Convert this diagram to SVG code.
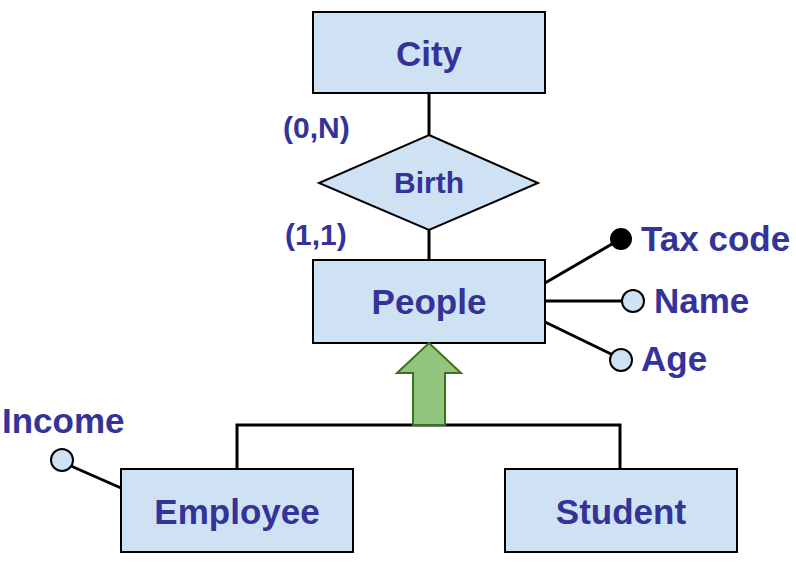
<svg xmlns="http://www.w3.org/2000/svg" width="796" height="577" viewBox="0 0 796 577">
<style>
.ent{fill:#cfe2f3;stroke:#000;stroke-width:2}
.t{font-family:"Liberation Sans",Arial,sans-serif;font-weight:bold;fill:#333399}
.big{font-size:35px}
.mid{font-size:30px}
.ln{stroke:#000;stroke-width:3;fill:none}
.attr{fill:#cfe2f3;stroke:#000;stroke-width:2}
</style>
<rect width="796" height="577" fill="#fff"/>
<g id="connectors">
<line class="ln" x1="429" y1="93" x2="429" y2="135"/>
<line class="ln" x1="429" y1="230" x2="429" y2="260"/>
<line class="ln" x1="545" y1="283" x2="612" y2="244"/>
<line class="ln" x1="545" y1="301" x2="622" y2="301"/>
<line class="ln" x1="545" y1="322" x2="611" y2="354"/>
<line class="ln" x1="71" y1="466" x2="121" y2="488"/>
<polyline class="ln" points="237,469 237,425 620,425 620,469"/>
</g>
<g id="city"><rect class="ent" x="313" y="12" width="232" height="81"/><text class="t big" x="429" y="66" text-anchor="middle">City</text></g>
<g id="birth"><polygon class="ent" points="429,135 538,183 429,230 319,183"/><text class="t mid" x="429" y="193" text-anchor="middle">Birth</text></g>
<g id="card-city"><text class="t mid" x="283" y="138">(0,N)</text></g>
<g id="card-people"><text class="t mid" x="285" y="245">(1,1)</text></g>
<g id="people"><rect class="ent" x="313" y="260" width="232" height="83"/><text class="t big" x="429" y="314" text-anchor="middle">People</text></g>
<g id="taxcode"><circle cx="621" cy="239" r="10" fill="#000" stroke="#000" stroke-width="2"/><text class="t big" x="641" y="251">Tax code</text></g>
<g id="name"><circle class="attr" cx="633" cy="301" r="11"/><text class="t big" x="654" y="313">Name</text></g>
<g id="age"><circle class="attr" cx="621" cy="360" r="11"/><text class="t big" x="641" y="371">Age</text></g>
<g id="isa"><polygon points="429,343 461,373 445,373 445,425 413,425 413,373 397,373" fill="#93c47d" stroke="#38761d" stroke-width="2"/></g>
<g id="employee"><rect class="ent" x="121" y="469" width="232" height="83"/><text class="t big" x="237" y="524" text-anchor="middle">Employee</text></g>
<g id="student"><rect class="ent" x="505" y="469" width="232" height="83"/><text class="t big" x="621" y="524" text-anchor="middle">Student</text></g>
<g id="income"><circle class="attr" cx="62" cy="460" r="11"/><text class="t big" x="2" y="433">Income</text></g>
</svg>
